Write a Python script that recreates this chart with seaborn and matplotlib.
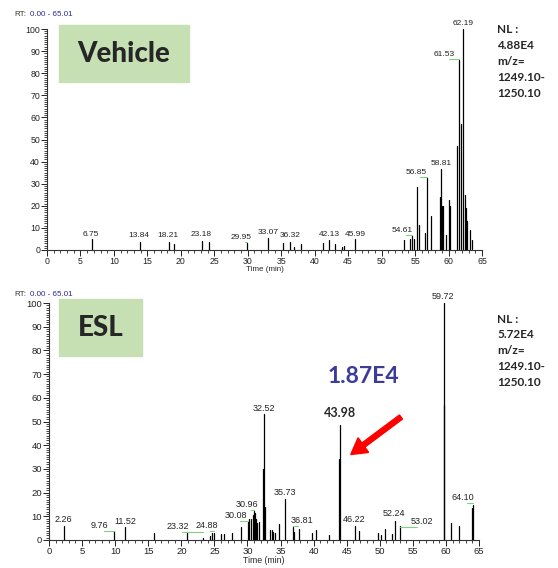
import pandas as pd
import matplotlib.pyplot as plt
import seaborn as sns
from matplotlib.patches import Rectangle, FancyArrow
from matplotlib.ticker import MultipleLocator

# Peak retention times (min) and relative abundance (%) for each trace
vehicle_rt = [6.75, 13.84, 18.21, 19.0, 23.18, 24.2, 29.95, 33.07, 35.3, 36.32,
              36.9, 37.9, 41.2, 42.13, 43.1, 44.1, 44.4, 45.99, 53.4, 54.2,
              54.61, 54.9, 55.35, 55.65, 56.5, 56.85, 57.35, 58.7, 58.81, 59.0,
              59.2, 59.6, 60.0, 60.2, 61.3, 61.53, 61.8, 62.19, 62.4, 62.6,
              62.8, 63.2, 63.5]
vehicle_ab = [4.8, 3.6, 3.8, 2.7, 4.2, 3.8, 3.0, 5.3, 3.0, 3.8,
              1.4, 2.7, 3.0, 4.5, 2.7, 1.5, 2.0, 4.8, 4.5, 5.0,
              6.3, 5.0, 28.4, 11.3, 7.5, 32.7, 15.4, 24.0, 36.5, 20.0,
              20.0, 6.8, 22.6, 20.0, 47.0, 86.0, 57.0, 100.0, 25.0, 19.0,
              13.0, 9.0, 4.5]

esl_rt = [2.26, 9.76, 11.52, 15.9, 20.8, 23.32, 24.4, 24.7, 24.88, 25.95,
          26.4, 27.6, 29.0, 30.08, 30.3, 30.6, 30.8, 30.96, 31.1, 31.3,
          31.5, 31.7, 32.3, 32.52, 32.7, 33.4, 33.7, 33.9, 34.2, 34.8,
          35.73, 36.81, 37.0, 37.8, 39.7, 40.4, 42.4, 43.9, 43.98, 46.22,
          46.9, 49.8, 50.2, 50.8, 51.8, 52.24, 53.02, 59.65, 59.72, 60.7,
          62.0, 63.9, 64.10]
esl_ab = [5.9, 3.8, 5.3, 3.1, 3.5, 1.0, 1.7, 2.8, 3.0, 2.5,
          2.5, 3.1, 5.3, 7.7, 8.7, 9.0, 10.5, 12.4, 11.2, 9.0,
          7.3, 7.5, 30.0, 53.0, 14.0, 4.2, 4.2, 3.5, 3.0, 6.7,
          17.2, 5.6, 3.5, 4.5, 3.1, 4.2, 2.1, 34.0, 48.5, 5.9,
          3.8, 3.1, 2.0, 4.5, 2.4, 8.2, 5.9, 57.0, 100.0, 7.0,
          5.9, 13.4, 14.8]

# Labelled peaks: (peak rt, label text centre, label height)
vehicle_labels = [(6.75, 6.6, 5.4), (13.84, 13.7, 4.8), (18.21, 18.1, 4.8),
                  (23.18, 23.1, 5.2), (29.95, 29.0, 3.9), (33.07, 33.1, 6.2),
                  (36.32, 36.4, 4.8), (42.13, 42.2, 5.4), (45.99, 46.0, 5.6),
                  (54.61, 53.1, 7.2), (56.85, 55.2, 33.6), (58.81, 58.9, 37.4),
                  (61.53, 59.4, 86.8), (62.19, 62.2, 100.8)]
esl_labels = [(2.26, 2.2, 6.9), (9.76, 7.7, 4.4), (11.52, 11.6, 6.1),
              (23.32, 19.5, 3.8), (24.88, 23.8, 4.1), (30.08, 28.3, 8.3),
              (30.96, 30.0, 12.9), (32.52, 32.55, 53.8), (35.73, 35.7, 18.2),
              (36.81, 38.2, 6.2), (46.22, 46.1, 6.6), (52.24, 52.2, 9.1),
              (53.02, 56.3, 5.8), (59.72, 59.6, 100.8), (64.10, 62.6, 16.1)]


def stick_frame(rt, ab):
    rows = []
    for i, (t, h) in enumerate(zip(rt, ab)):
        rows.append({"time": t, "ab": 0.0, "peak": i})
        rows.append({"time": t, "ab": h, "peak": i})
    return pd.DataFrame(rows)


def draw_trace(ax, rt, ab, labels, lab_size, tick_size, bold_rt=None):
    df = stick_frame(rt, ab)
    sns.lineplot(data=df, x="time", y="ab", units="peak", estimator=None,
                 sort=False, color="black", lw=0.9, ax=ax, legend=False)
    for peak, lx, ly in labels:
        if peak == bold_rt:
            continue
        ax.text(lx, ly, f"{peak:.2f}", ha="center", va="bottom",
                fontsize=lab_size, color="#222222", clip_on=False)
        if abs(peak - lx) > 0.4:
            x0 = lx + 0.6 if peak > lx else lx - 0.6
            ax.plot([x0, peak], [ly - 0.4, ly - 0.4], color="#7fd07f",
                    lw=0.8, clip_on=False)
    ax.set_xlim(0, 65)
    ax.set_ylim(0, 100)
    ax.xaxis.set_major_locator(MultipleLocator(5))
    ax.xaxis.set_minor_locator(MultipleLocator(1))
    ax.yaxis.set_major_locator(MultipleLocator(10))
    ax.yaxis.set_minor_locator(MultipleLocator(1))
    ax.tick_params(which="major", length=4, width=0.7, pad=1,
                   labelsize=tick_size, colors="#222222")
    ax.tick_params(which="minor", length=2, width=0.6)
    for s in ("left", "bottom"):
        ax.spines[s].set_linewidth(0.8)
        ax.spines[s].set_color("#333333")
    sns.despine(ax=ax)
    ax.set_xlabel("Time (min)", fontsize=tick_size - 0.5, labelpad=0)
    ax.set_ylabel("")


sns.set_style("ticks")
plt.rcParams["font.family"] = ["Liberation Sans", "DejaVu Sans"]
bold_font = ["Lato", "DejaVu Sans"]

fig = plt.figure(figsize=(5.58, 5.68), dpi=100)
ax_top = fig.add_axes([0.0842, 0.5599, 0.7796, 0.389])
ax_bot = fig.add_axes([0.0878, 0.0493, 0.7706, 0.4172])

draw_trace(ax_top, vehicle_rt, vehicle_ab, vehicle_labels, 6.0, 6.3)
draw_trace(ax_bot, esl_rt, esl_ab, esl_labels, 6.5, 6.8, bold_rt=43.98)

# RT range headers
for y in (0.975, 0.482):
    fig.text(0.025, y, "RT:", fontsize=5.8, color="#333333", va="center")
    fig.text(0.054, y, "0.00 - 65.01", fontsize=5.8, color="#2b2b8c",
             va="center")

# Sample name boxes
green = "#c6e0b4"
fig.patches.append(Rectangle((0.1057, 0.8556), 0.233, 0.1004,
                             transform=fig.transFigure, color=green))
fig.text(0.2222, 0.905, "Vehicle", fontsize=20, fontweight="black",
         family=bold_font, ha="center", va="center")
fig.patches.append(Rectangle((0.1057, 0.3732), 0.1488, 0.1004,
                             transform=fig.transFigure, color=green))
fig.text(0.1801, 0.4234, "ESL", fontsize=20, fontweight="black",
         family=bold_font, ha="center", va="center")

# Normalisation level / mass range
fig.text(0.8907, 0.957, "NL :\n4.88E4\nm/z=\n1249.10-\n1250.10",
         fontsize=8.5, fontweight="bold", family=bold_font,
         va="top", linespacing=1.55)
fig.text(0.8907, 0.448, "NL :\n5.72E4\nm/z=\n1249.10-\n1250.10",
         fontsize=8.5, fontweight="bold", family=bold_font,
         va="top", linespacing=1.55)

# Highlighted peak
fig.text(0.6505, 0.3363, "1.87E4", fontsize=16.5, fontweight="bold",
         color="#3b3b9c", family=bold_font, ha="center", va="center")
ax_bot.text(44.0, 51.0, "43.98", fontsize=9, fontweight="bold",
            family=bold_font, ha="center", va="bottom")
fig.patches.append(FancyArrow(
    0.7186, 0.2658, -0.0900, -0.0660, width=0.009, head_width=0.032,
    head_length=0.028, length_includes_head=True, color="red",
    transform=fig.transFigure))

fig.savefig("out.png", dpi=100)
